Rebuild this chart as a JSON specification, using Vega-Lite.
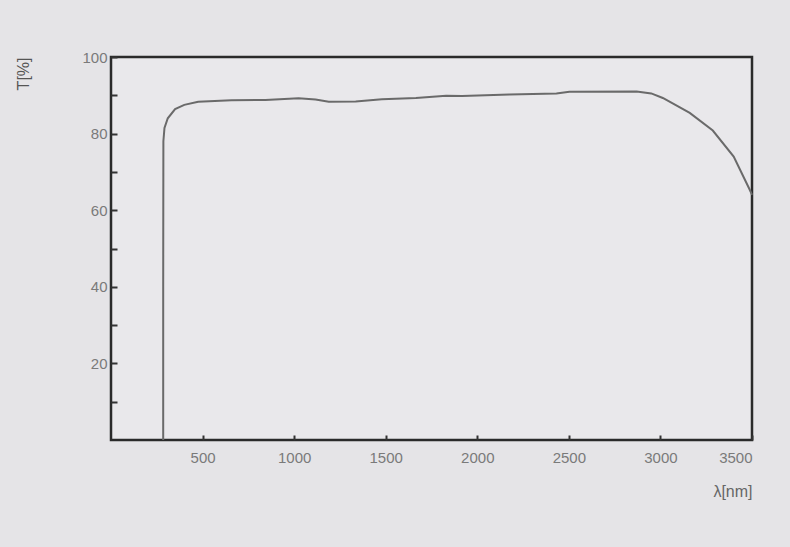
{
  "$schema": "https://vega.github.io/schema/vega-lite/v6.json",
  "width": 641,
  "height": 383,
  "autosize": {"type": "none"},
  "padding": {"left": 111, "top": 57, "right": 38, "bottom": 107},
  "background": "#e5e4e7",
  "config": {
    "view": {"stroke": "#2a2a2a", "strokeWidth": 2.5, "fill": "#e9e8eb"},
    "font": "Liberation Sans"
  },
  "data": {
    "values": [
      {"wavelength": 285, "T": 0},
      {"wavelength": 285, "T": 40},
      {"wavelength": 286, "T": 78},
      {"wavelength": 292, "T": 81.5},
      {"wavelength": 310, "T": 84},
      {"wavelength": 350, "T": 86.4},
      {"wavelength": 400, "T": 87.5},
      {"wavelength": 476, "T": 88.3},
      {"wavelength": 657, "T": 88.7},
      {"wavelength": 843, "T": 88.8},
      {"wavelength": 1024, "T": 89.2},
      {"wavelength": 1117, "T": 88.9},
      {"wavelength": 1189, "T": 88.3},
      {"wavelength": 1336, "T": 88.4},
      {"wavelength": 1479, "T": 89.0},
      {"wavelength": 1665, "T": 89.3},
      {"wavelength": 1830, "T": 89.9},
      {"wavelength": 1917, "T": 89.8},
      {"wavelength": 2175, "T": 90.2},
      {"wavelength": 2432, "T": 90.5},
      {"wavelength": 2503, "T": 90.9},
      {"wavelength": 2870, "T": 91.0},
      {"wavelength": 2950, "T": 90.5},
      {"wavelength": 3013, "T": 89.3},
      {"wavelength": 3089, "T": 87.3},
      {"wavelength": 3160, "T": 85.4},
      {"wavelength": 3286, "T": 80.8},
      {"wavelength": 3400, "T": 74},
      {"wavelength": 3489, "T": 65.2},
      {"wavelength": 3500, "T": 64}
    ]
  },
  "mark": {"type": "line", "color": "#6a6a6a", "strokeWidth": 2},
  "encoding": {
    "x": {
      "field": "wavelength",
      "type": "quantitative",
      "scale": {"domain": [0, 3500], "nice": false},
      "axis": {
        "values": [500, 1000, 1500, 2000, 2500, 3000, 3500],
        "format": "d",
        "grid": false,
        "domain": false,
        "tickSize": -5,
        "tickWidth": 2,
        "tickColor": "#333",
        "labelPadding": 15,
        "labelFontSize": 15,
        "labelColor": "#7a7a7a",
        "labelFont": "Liberation Sans",
        "title": "λ[nm]",
        "titleAnchor": "end",
        "titleAlign": "right",
        "titleFontWeight": "normal",
        "titleFontSize": 16,
        "titleColor": "#666",
        "titleFont": "Liberation Sans",
        "titlePadding": 18
      }
    },
    "y": {
      "field": "T",
      "type": "quantitative",
      "scale": {"domain": [0, 100], "nice": false},
      "axis": {
        "values": [10, 20, 30, 40, 50, 60, 70, 80, 90, 100],
        "labelExpr": "datum.value % 20 == 0 ? datum.label : ''",
        "grid": false,
        "domain": false,
        "tickSize": -6,
        "tickWidth": 2,
        "tickColor": "#333",
        "labelPadding": 10,
        "labelFontSize": 15,
        "labelColor": "#7a7a7a",
        "labelFont": "Liberation Sans",
        "title": "T[%]",
        "titleAngle": -90,
        "titleX": -88,
        "titleY": 0,
        "titleAlign": "right",
        "titleBaseline": "middle",
        "titleFontWeight": "normal",
        "titleFontSize": 16,
        "titleColor": "#555",
        "titleFont": "Liberation Sans"
      }
    }
  }
}
